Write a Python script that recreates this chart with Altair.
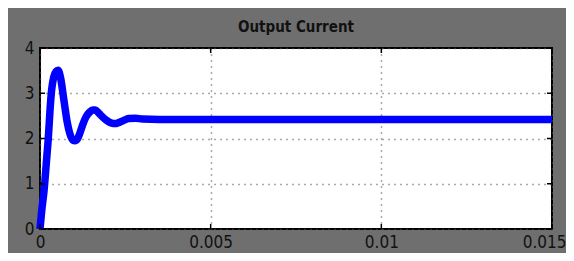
import altair as alt
import pandas as pd

# time in seconds, current in A
t_ms = [0, 0.05, 0.12, 0.2, 0.24, 0.3, 0.34, 0.4, 0.47, 0.53, 0.6, 0.7, 0.8, 0.9, 1.0, 1.08,
        1.15, 1.25, 1.35, 1.45, 1.55, 1.62, 1.7, 1.8, 1.95, 2.1, 2.2, 2.3, 2.45, 2.6, 2.8,
        3.0, 3.5, 5.0, 8.0, 11.0, 15.0]
current = [0, 0.4, 0.86, 1.6, 1.97, 2.7, 3.07, 3.35, 3.48, 3.51, 3.35, 2.85, 2.35, 2.05, 1.95, 1.97,
           2.08, 2.3, 2.48, 2.58, 2.63, 2.63, 2.58, 2.5, 2.4, 2.34, 2.33, 2.35, 2.4, 2.44, 2.45,
           2.43, 2.42, 2.42, 2.42, 2.42, 2.42]
x_ticks = [0, 0.005, 0.01, 0.015]
y_ticks = [0, 1, 2, 3, 4]

df = pd.DataFrame({"t": [v / 1000 for v in t_ms], "i": current})
xt = pd.DataFrame({"x": x_ticks})
yt = pd.DataFrame({"y": y_ticks})

FONT = "DejaVu Sans Condensed"
xs = alt.Scale(domain=[0, 0.015], nice=False)
ys = alt.Scale(domain=[0, 4], nice=False)

last_test = "datum.value >= 0.0149"

line = alt.Chart(df).mark_line(color="#0000ff", strokeWidth=7.5, interpolate="monotone").encode(
    x=alt.X("t:Q", scale=xs, axis=alt.Axis(
        values=x_ticks, format="~g", title=None, grid=True,
        gridDash=[1, 5], gridColor="#555", gridWidth=1.5,
        tickSize=0, domain=False, labelPadding=5,
        labelFontSize=17, labelColor="#111", labelFont=FONT, labelFlush=False,
        labelAlign={"condition": {"test": last_test, "value": "right"}, "value": "center"},
        labelOffset={"condition": {"test": last_test, "value": 14}, "value": 0})),
    y=alt.Y("i:Q", scale=ys, axis=alt.Axis(
        values=y_ticks, title=None, grid=True,
        gridDash=[1, 5], gridColor="#555", gridWidth=1.5,
        tickSize=0, domain=False, labelPadding=6,
        labelFontSize=17, labelColor="#111", labelFont=FONT)),
)

tl = 5
yl = alt.Chart(yt).mark_rule(color="black", strokeWidth=1.5).encode(
    y=alt.Y("y:Q", scale=ys), x=alt.value(0), x2=alt.value(tl))
yr = alt.Chart(yt).mark_rule(color="black", strokeWidth=1.5).encode(
    y=alt.Y("y:Q", scale=ys), x=alt.value(512 - tl), x2=alt.value(512))
xb = alt.Chart(xt).mark_rule(color="black", strokeWidth=1.5).encode(
    x=alt.X("x:Q", scale=xs), y=alt.value(181 - tl), y2=alt.value(181))
xtop = alt.Chart(xt).mark_rule(color="black", strokeWidth=1.5).encode(
    x=alt.X("x:Q", scale=xs), y=alt.value(0), y2=alt.value(tl))

chart = alt.layer(line, yl, yr, xb, xtop).properties(
    width=512, height=181,
    title=alt.TitleParams("Output Current", fontSize=15, font=FONT, color="#111",
                          fontWeight="bold", offset=4),
    background="#6f6f6f",
    padding={"left": 32, "top": 40, "right": 14, "bottom": 24},
    autosize=alt.AutoSizeParams(type="none"),
).configure_view(fill="white", stroke="black", strokeWidth=2)

chart.save("out.html", embed_options={"renderer": "svg", "actions": False})
